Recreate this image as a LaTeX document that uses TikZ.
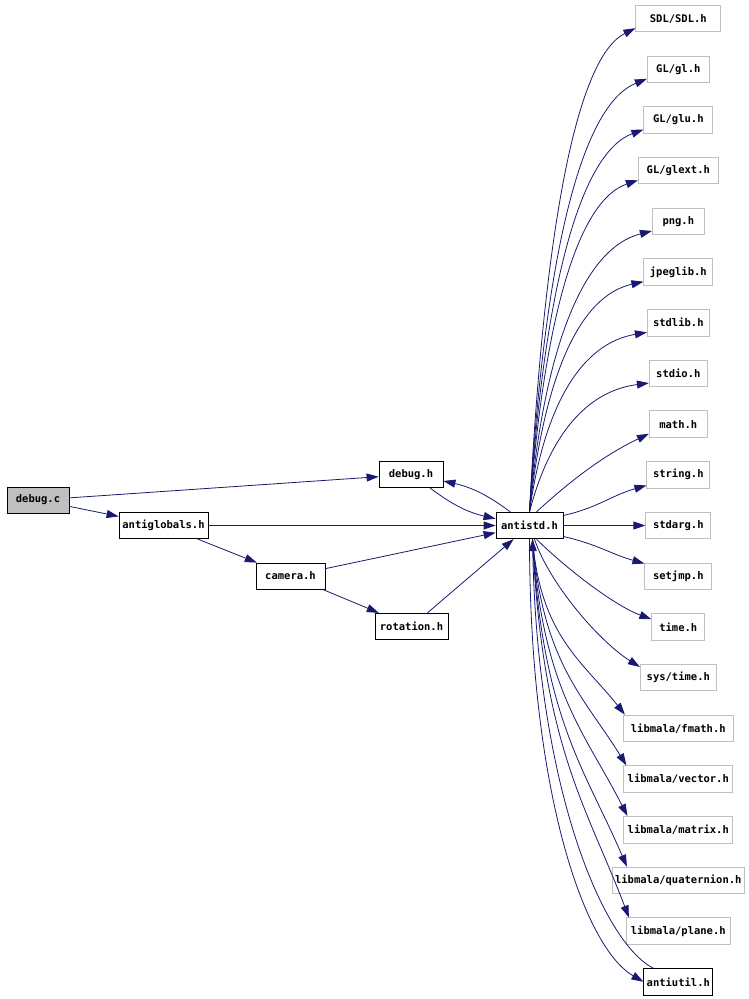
\documentclass[tikz,border=0pt]{standalone}
\usepackage{fontspec}
\newfontfamily\graphfont{DejaVu Sans Mono}
\usepackage{tikz}
\usetikzlibrary{arrows.meta, positioning}
\definecolor{edgeblue}{HTML}{191970}
\definecolor{boxgray}{HTML}{BFBFBF}

\begin{document}
\begin{tikzpicture}[x=1pt, y=1pt]
\tikzstyle{filenode}=[draw, rectangle, line width=0.8pt, minimum height=26.5pt, inner xsep=1pt, inner ysep=2pt, font=\graphfont\bfseries\fontsize{10.5}{12}\selectfont]
\tikzstyle{sysnode}=[filenode, draw=boxgray]
\tikzstyle{incl}=[draw=edgeblue, line width=0.8pt, -{Triangle[length=12pt, width=8pt]}]
    \useasboundingbox (0,0) rectangle (749,-999);

    % files of the project
    \node (debugc) [filenode, fill=boxgray, minimum width=62pt, minimum height=26pt] at (38,-500) {debug.c};
    \node (antiglobals) [filenode, minimum width=89pt] at (163.5,-525.5) {antiglobals.h};
    \node (debugh) [filenode, minimum width=64pt] at (411,-474.5) {debug.h};
    \node (antistd) [filenode, minimum width=67pt] at (529.5,-525.5) {antistd.h};
    \node (camera) [filenode, minimum width=69pt, minimum height=26pt] at (290.5,-576) {camera.h};
    \node (rotation) [filenode, minimum width=73pt] at (411.5,-626.5) {rotation.h};

    % included headers
    \node (stdarg) [sysnode, minimum width=65pt, right=82pt of antistd] {stdarg.h};
    \node (string) [sysnode, minimum width=63pt, above=23.4pt of stdarg] {string.h};
    \node (math) [sysnode, minimum width=58pt, above=23.4pt of string] {math.h};
    \node (stdio) [sysnode, minimum width=58pt, above=23.4pt of math] {stdio.h};
    \node (stdlib) [sysnode, minimum width=62pt, above=23.4pt of stdio] {stdlib.h};
    \node (jpeglib) [sysnode, minimum width=69pt, above=23.4pt of stdlib] {jpeglib.h};
    \node (png) [sysnode, minimum width=52pt, above=23.4pt of jpeglib] {png.h};
    \node (glext) [sysnode, minimum width=80pt, above=23.4pt of png] {GL/glext.h};
    \node (glu) [sysnode, minimum width=69pt, above=23.4pt of glext] {GL/glu.h};
    \node (gl) [sysnode, minimum width=62pt, above=23.4pt of glu] {GL/gl.h};
    \node (sdl) [sysnode, minimum width=85pt, above=23.4pt of gl] {SDL/SDL.h};
    \node (setjmp) [sysnode, minimum width=67pt, below=23.4pt of stdarg] {setjmp.h};
    \node (time) [sysnode, minimum width=53pt, below=23.4pt of setjmp] {time.h};
    \node (systime) [sysnode, minimum width=76pt, below=23.4pt of time] {sys/time.h};
    \node (fmath) [sysnode, minimum width=110pt, below=23.4pt of systime] {libmala/fmath.h};
    \node (vector) [sysnode, minimum width=109pt, below=23.4pt of fmath] {libmala/vector.h};
    \node (matrix) [sysnode, minimum width=109pt, below=23.4pt of vector] {libmala/matrix.h};
    \node (quaternion) [sysnode, minimum width=132pt, below=23.4pt of matrix] {libmala/quaternion.h};
    \node (plane) [sysnode, minimum width=104pt, below=23.4pt of quaternion] {libmala/plane.h};
    \node (antiutil) [filenode, minimum width=69pt, below=23.4pt of plane] {antiutil.h};

    \draw[incl] (debugc) -- (debugh);
    \draw[incl] (debugc) -- (antiglobals);
    \draw[incl] (antiglobals) -- (antistd);
    \draw[incl] (antiglobals) -- (camera);
    \draw[incl] (camera) -- (antistd);
    \draw[incl] (camera) -- (rotation);
    \draw[incl] (rotation) -- (antistd);
    \draw[incl] (debugh) to[bend right=12] (antistd);
    \draw[incl] (antistd) to[bend right=12] (debugh);

    % antistd.h includes
    \draw[incl] (antistd.north) .. controls +(15,290) and +(-58,-29) .. ([yshift=4pt]sdl.south west);
    \draw[incl] (antistd.north) .. controls +(15,260) and +(-65,-26) .. ([yshift=4pt]gl.south west);
    \draw[incl] (antistd.north) .. controls +(15,230) and +(-62,-23) .. ([yshift=4pt]glu.south west);
    \draw[incl] (antistd.north) .. controls +(15,199) and +(-59,-20) .. ([yshift=4pt]glext.south west);
    \draw[incl] (antistd.north) .. controls +(15,169) and +(-67,-17) .. ([yshift=4pt]png.south west);
    \draw[incl] (antistd.north) .. controls +(15,139) and +(-63,-14) .. ([yshift=4pt]jpeglib.south west);
    \draw[incl] (antistd.north) .. controls +(15,108) and +(-65,-11) .. ([yshift=4pt]stdlib.south west);
    \draw[incl] (antistd.north) .. controls +(20,77) and +(-62,-8) .. ([yshift=4pt]stdio.south west);
    \draw[incl] ([xshift=7pt]antistd.north) .. controls +(36,33) and +(-44,-21) .. ([yshift=4pt]math.south west);
    \draw[incl] ([yshift=10pt]antistd.east) .. controls +(35,8) and +(-35,-10) .. ([yshift=3pt]string.south west);
    \draw[incl] (antistd) -- (stdarg);
    \draw[incl] ([yshift=-11pt]antistd.east) .. controls +(35,-8) and +(-35,10) .. ([yshift=-1pt]setjmp.north west);
    \draw[incl] ([xshift=7pt]antistd.south) .. controls +(25,-25) and +(-40,15) .. ([yshift=-6pt]time.north west);
    \draw[incl] ([xshift=5pt]antistd.south) .. controls +(15,-45) and +(-40,25) .. ([yshift=-3pt]systime.north west);
    \draw[incl] ([xshift=3pt]antistd.south) .. controls +(8,-97) and +(-42,53) .. ([xshift=2pt]fmath.north west);
    \draw[incl] ([xshift=3pt]antistd.south) .. controls +(10,-124) and +(-42,68) .. ([xshift=3pt]vector.north west);
    \draw[incl] ([xshift=3pt]antistd.south) .. controls +(10,-152) and +(-42,83) .. ([xshift=4pt]matrix.north west);
    \draw[incl] ([xshift=3pt]antistd.south) .. controls +(10,-180) and +(-42,98) .. ([xshift=15pt]quaternion.north west);
    \draw[incl] ([xshift=3pt]antistd.south) .. controls +(10,-208) and +(-43,113) .. ([xshift=3pt]plane.north west);
    \draw[incl] (antistd.south) .. controls +(0,-250) and +(-60,35) .. (antiutil.west);
    \draw[incl] ([xshift=-25pt]antiutil.north) .. controls +(-50,25) and +(5,-250) .. ([xshift=3pt]antistd.south);
\end{tikzpicture}
\end{document}
